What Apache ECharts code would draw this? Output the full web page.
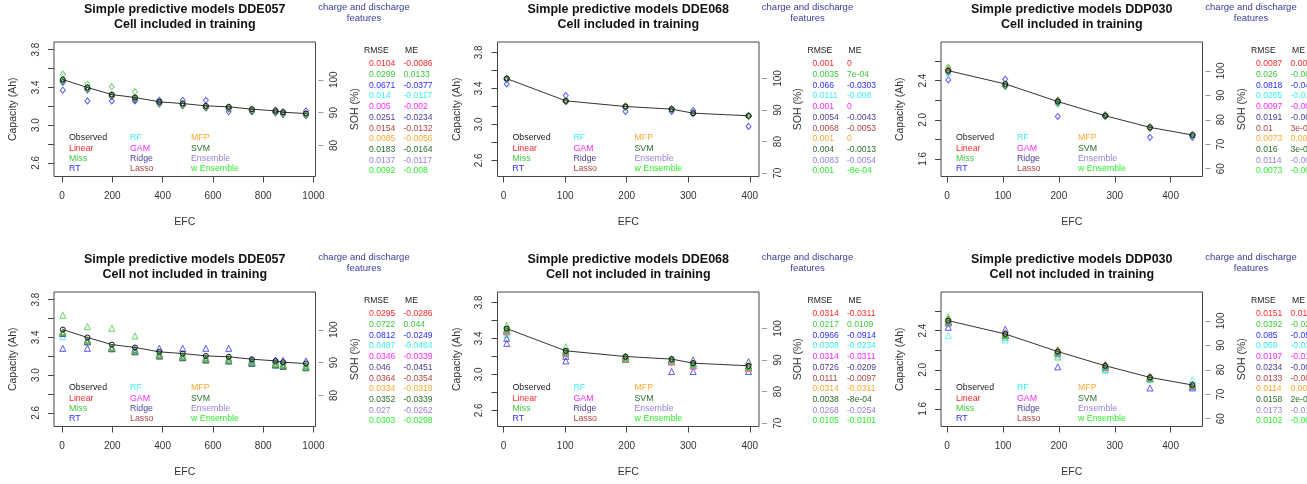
<!DOCTYPE html>
<html>
<head>
<meta charset="utf-8">
<script src="https://cdn.jsdelivr.net/npm/echarts@6/dist/echarts.min.js"></script>
<style>
html, body { margin: 0; padding: 0; background: #fff; }
#main { width: 1307px; height: 484px; }
</style>
</head>
<body>
<div id="main"></div>
<script>
// models and colours (same order in the tables)
var models = ['Linear', 'Miss', 'RT', 'RF', 'GAM', 'Ridge', 'Lasso', 'MFP', 'SVM', 'Ensemble', 'w Ensemble'];
var modelColors = ['#ff2a2a', '#3fc83f', '#2f2fff', '#3ff0f0', '#ff2aff', '#4a3d96', '#b04545', '#ffa830', '#2a6e2a', '#9a80dd', '#30f030'];

// DDE057
var efcDDE057 = [3, 101, 198, 290, 387, 480, 572, 663, 755, 849, 879, 970];
var obsDDE057 = [3.482, 3.398, 3.323, 3.292, 3.246, 3.228, 3.203, 3.193, 3.168, 3.150, 3.136, 3.122];
var predDDE057In = [
  [3.472, 3.392, 3.318, 3.285, 3.238, 3.222, 3.190, 3.182, 3.160, 3.138, 3.128, 3.112],
  [3.539, 3.433, 3.405, 3.352, 3.242, 3.222, 3.195, 3.190, 3.162, 3.145, 3.132, 3.115],
  [3.369, 3.256, 3.256, 3.256, 3.262, 3.262, 3.262, 3.140, 3.140, 3.160, 3.140, 3.150],
  [3.450, 3.385, 3.312, 3.280, 3.236, 3.215, 3.190, 3.182, 3.158, 3.140, 3.125, 3.110],
  [3.480, 3.396, 3.322, 3.290, 3.243, 3.226, 3.200, 3.190, 3.166, 3.148, 3.134, 3.118],
  [3.455, 3.372, 3.300, 3.268, 3.224, 3.205, 3.180, 3.170, 3.146, 3.128, 3.112, 3.100],
  [3.468, 3.385, 3.310, 3.280, 3.234, 3.215, 3.190, 3.180, 3.155, 3.137, 3.123, 3.108],
  [3.476, 3.392, 3.317, 3.286, 3.240, 3.222, 3.197, 3.187, 3.162, 3.144, 3.130, 3.116],
  [3.466, 3.382, 3.306, 3.275, 3.230, 3.212, 3.187, 3.177, 3.152, 3.134, 3.120, 3.106],
  [3.468, 3.386, 3.312, 3.280, 3.234, 3.216, 3.191, 3.181, 3.157, 3.138, 3.124, 3.110],
  [3.474, 3.390, 3.315, 3.284, 3.238, 3.220, 3.195, 3.185, 3.160, 3.142, 3.128, 3.114]
];
var predDDE057Out = [
  [3.455, 3.372, 3.295, 3.262, 3.218, 3.200, 3.175, 3.165, 3.140, 3.122, 3.108, 3.092],
  [3.634, 3.513, 3.496, 3.414, 3.232, 3.212, 3.185, 3.180, 3.150, 3.138, 3.125, 3.105],
  [3.283, 3.283, 3.283, 3.273, 3.283, 3.283, 3.283, 3.283, 3.160, 3.160, 3.156, 3.150],
  [3.407, 3.352, 3.280, 3.248, 3.205, 3.185, 3.160, 3.150, 3.125, 3.105, 3.092, 3.075],
  [3.455, 3.365, 3.290, 3.258, 3.212, 3.194, 3.170, 3.160, 3.135, 3.116, 3.102, 3.088],
  [3.440, 3.352, 3.278, 3.246, 3.200, 3.183, 3.158, 3.148, 3.123, 3.105, 3.090, 3.078],
  [3.450, 3.362, 3.288, 3.256, 3.210, 3.192, 3.168, 3.158, 3.133, 3.115, 3.100, 3.087],
  [3.452, 3.366, 3.291, 3.260, 3.214, 3.196, 3.171, 3.161, 3.136, 3.118, 3.104, 3.090],
  [3.450, 3.364, 3.290, 3.258, 3.212, 3.194, 3.169, 3.159, 3.134, 3.116, 3.102, 3.088],
  [3.458, 3.372, 3.297, 3.266, 3.220, 3.202, 3.177, 3.167, 3.142, 3.124, 3.110, 3.096],
  [3.454, 3.368, 3.293, 3.262, 3.216, 3.198, 3.173, 3.163, 3.138, 3.120, 3.106, 3.092]
];
var rmseDDE057In = ['0.0104', '0.0299', '0.0671', '0.014', '0.005', '0.0251', '0.0154', '0.0085', '0.0183', '0.0137', '0.0092'];
var meDDE057In = ['-0.0086', '0.0133', '-0.0377', '-0.0117', '-0.002', '-0.0234', '-0.0132', '-0.0056', '-0.0164', '-0.0117', '-0.008'];
var rmseDDE057Out = ['0.0295', '0.0722', '0.0812', '0.0487', '0.0346', '0.046', '0.0364', '0.0334', '0.0352', '0.027', '0.0303'];
var meDDE057Out = ['-0.0286', '0.044', '-0.0249', '-0.0464', '-0.0339', '-0.0451', '-0.0354', '-0.0319', '-0.0339', '-0.0262', '-0.0298'];

// DDE068
var efcDDE068 = [5, 101, 198, 273, 308, 398];
var obsDDE068 = [3.508, 3.261, 3.198, 3.169, 3.124, 3.095];
var predDDE068In = [
  [3.509, 3.260, 3.199, 3.168, 3.125, 3.094],
  [3.514, 3.258, 3.200, 3.170, 3.122, 3.097],
  [3.449, 3.320, 3.143, 3.143, 3.154, 2.977],
  [3.490, 3.255, 3.188, 3.165, 3.118, 3.090],
  [3.508, 3.261, 3.198, 3.169, 3.124, 3.095],
  [3.500, 3.255, 3.193, 3.166, 3.120, 3.090],
  [3.498, 3.254, 3.192, 3.165, 3.120, 3.089],
  [3.508, 3.261, 3.198, 3.169, 3.124, 3.095],
  [3.506, 3.259, 3.197, 3.168, 3.122, 3.094],
  [3.495, 3.260, 3.185, 3.165, 3.122, 3.092],
  [3.507, 3.260, 3.197, 3.168, 3.123, 3.094]
];
var predDDE068Out = [
  [3.478, 3.230, 3.167, 3.138, 3.093, 3.064],
  [3.546, 3.307, 3.200, 3.160, 3.118, 3.092],
  [3.344, 3.149, 3.170, 3.031, 3.031, 3.031],
  [3.443, 3.245, 3.180, 3.150, 3.105, 3.080],
  [3.477, 3.231, 3.167, 3.138, 3.093, 3.064],
  [3.400, 3.200, 3.165, 3.172, 3.160, 3.141],
  [3.490, 3.250, 3.190, 3.160, 3.115, 3.085],
  [3.477, 3.230, 3.167, 3.138, 3.093, 3.064],
  [3.505, 3.262, 3.197, 3.168, 3.124, 3.094],
  [3.470, 3.236, 3.175, 3.150, 3.100, 3.075],
  [3.495, 3.250, 3.188, 3.160, 3.115, 3.085]
];
var rmseDDE068In = ['0.001', '0.0035', '0.066', '0.0111', '0.001', '0.0054', '0.0068', '0.001', '0.004', '0.0083', '0.001'];
var meDDE068In = ['0', '7e-04', '-0.0303', '-0.008', '0', '-0.0043', '-0.0053', '0', '-0.0013', '-0.0054', '-8e-04'];
var rmseDDE068Out = ['0.0314', '0.0217', '0.0966', '0.0308', '0.0314', '0.0726', '0.0111', '0.0314', '0.0038', '0.0268', '0.0105'];
var meDDE068Out = ['-0.0311', '0.0109', '-0.0914', '-0.0234', '-0.0311', '-0.0209', '-0.0097', '-0.0311', '-8e-04', '-0.0254', '-0.0101'];

// DDP030
var efcDDP030 = [2, 104, 198, 283, 363, 439];
var obsDDP030 = [2.502, 2.366, 2.186, 2.041, 1.922, 1.844];
var predDDP030In = [
  [2.515, 2.360, 2.195, 2.040, 1.925, 1.842],
  [2.536, 2.340, 2.160, 2.035, 1.915, 1.850],
  [2.407, 2.414, 2.034, 2.041, 1.820, 1.820],
  [2.460, 2.350, 2.170, 2.030, 1.920, 1.850],
  [2.500, 2.355, 2.180, 2.040, 1.925, 1.845],
  [2.490, 2.350, 2.180, 2.035, 1.915, 1.840],
  [2.505, 2.365, 2.190, 2.045, 1.925, 1.845],
  [2.510, 2.362, 2.188, 2.042, 1.922, 1.846],
  [2.495, 2.345, 2.200, 2.050, 1.915, 1.845],
  [2.480, 2.355, 2.175, 2.035, 1.915, 1.840],
  [2.500, 2.360, 2.185, 2.040, 1.920, 1.843]
];
var predDDP030Out = [
  [2.520, 2.380, 2.205, 2.055, 1.935, 1.855],
  [2.540, 2.330, 2.130, 2.000, 1.905, 1.830],
  [2.434, 2.414, 2.030, 2.020, 1.814, 1.814],
  [2.349, 2.305, 2.150, 2.000, 1.900, 1.898],
  [2.490, 2.350, 2.170, 2.030, 1.910, 1.830],
  [2.480, 2.350, 2.175, 2.040, 1.915, 1.835],
  [2.490, 2.355, 2.180, 2.035, 1.915, 1.840],
  [2.510, 2.370, 2.195, 2.045, 1.925, 1.845],
  [2.500, 2.360, 2.190, 2.045, 1.925, 1.840],
  [2.480, 2.350, 2.170, 2.030, 1.910, 1.835],
  [2.495, 2.355, 2.180, 2.035, 1.915, 1.838]
];
var rmseDDP030In = ['0.0087', '0.026', '0.0818', '0.0265', '0.0097', '0.0191', '0.01', '0.0073', '0.016', '0.0114', '0.0073'];
var meDDP030In = ['0.0035', '-0.0062', '-0.0412', '-0.0152', '-0.0045', '-0.0061', '3e-04', '0.0021', '3e-04', '-0.0055', '-0.0018'];
var rmseDDP030Out = ['0.0151', '0.0392', '0.085', '0.069', '0.0197', '0.0234', '0.0133', '0.0114', '0.0158', '0.0173', '0.0102'];
var meDDP030Out = ['0.0134', '-0.0231', '-0.0562', '-0.0258', '-0.0172', '-0.0046', '-0.0031', '0.0063', '2e-04', '-0.0152', '-0.0047'];

// axis ticks
var xTicks1000 = [0, 200, 400, 600, 800, 1000];
var xTicks400 = [0, 100, 200, 300, 400];
var capTicksDDE = [2.6, 2.8, 3.0, 3.2, 3.4, 3.6, 3.8];
var capLabelsDDE = [2.6, 3.0, 3.4, 3.8];
var capTicksDDP = [1.6, 1.8, 2.0, 2.2, 2.4, 2.6];
var capLabelsDDP = [1.6, 2.0, 2.4];
var sohTicksDDE057 = [80, 90, 100];
var sohTicksDDE068 = [70, 80, 90, 100];
var sohTicksDDP030 = [60, 70, 80, 90, 100];

var cells = [
  {name: 'DDE057', efc: efcDDE057, obs: obsDDE057, xr: [-32, 1008], yr: [2.455, 3.88], nom: 3.48, xt: xTicks1000, yt: capTicksDDE, yl: capLabelsDDE, st: sohTicksDDE057},
  {name: 'DDE068', efc: efcDDE068, obs: obsDDE068, xr: [-10, 415], yr: [2.42, 3.915], nom: 3.51, xt: xTicks400, yt: capTicksDDE, yl: capLabelsDDE, st: sohTicksDDE068},
  {name: 'DDP030', efc: efcDDP030, obs: obsDDP030, xr: [-11, 457], yr: [1.42, 2.795], nom: 2.5, xt: xTicks400, yt: capTicksDDP, yl: capLabelsDDP, st: sohTicksDDP030}
];
var rows = [
  {label: 'Cell included in training', symbol: 'diamond', pred: [predDDE057In, predDDE068In, predDDP030In], rmse: [rmseDDE057In, rmseDDE068In, rmseDDP030In], me: [meDDE057In, meDDE068In, meDDP030In]},
  {label: 'Cell not included in training', symbol: 'triangle', pred: [predDDE057Out, predDDE068Out, predDDP030Out], rmse: [rmseDDE057Out, rmseDDE068Out, rmseDDP030Out], me: [meDDE057Out, meDDE068Out, meDDP030Out]}
];

var FONT = '"Liberation Sans", Arial, Helvetica, sans-serif';
var boxLeft = [54, 497.5, 941];
var boxTop = [42, 292];
var boxW = 261.5, boxH = 134.5;

var grids = [], xAxes = [], yAxes = [], series = [], texts = [];

function txt(x, y, s, color, size, bold, align) {
  texts.push({
    type: 'text', x: x, y: y, silent: true,
    style: {
      text: s, fill: color,
      font: (bold ? 'bold ' : '') + size + 'px ' + FONT,
      textAlign: align || 'left', textVerticalAlign: 'middle'
    }
  });
}

rows.forEach(function (row, r) {
  cells.forEach(function (c, k) {
    var gi = grids.length;
    var L = boxLeft[k], T = boxTop[r];
    grids.push({left: L, top: T, width: boxW, height: boxH, show: true, borderColor: '#444', borderWidth: 1});
    xAxes.push({
      gridIndex: gi, type: 'value', min: c.xr[0], max: c.xr[1],
      name: 'EFC', nameLocation: 'middle', nameGap: 40,
      nameTextStyle: {fontFamily: FONT, fontSize: 10.5, color: '#333'},
      axisLine: {show: false, onZero: false},
      axisTick: {show: true, inside: false, length: 6, customValues: c.xt, lineStyle: {color: '#444'}},
      axisLabel: {customValues: c.xt, margin: 15, fontFamily: FONT, fontSize: 10, color: '#333',
        formatter: function (v) { return String(v); }},
      splitLine: {show: false}
    });
    yAxes.push({
      gridIndex: gi, type: 'value', position: 'left', min: c.yr[0], max: c.yr[1],
      name: 'Capacity (Ah)', nameLocation: 'middle', nameGap: 35, nameRotate: 90,
      nameTextStyle: {fontFamily: FONT, fontSize: 10.5, color: '#333'},
      axisLine: {show: false, onZero: false},
      axisTick: {show: true, inside: false, length: 6, customValues: c.yt, lineStyle: {color: '#444'}},
      axisLabel: {customValues: c.yl, rotate: 90, margin: 13, fontFamily: FONT, fontSize: 10, color: '#333',
        formatter: function (v) { return v.toFixed(1); }},
      splitLine: {show: false}
    });
    yAxes.push({
      gridIndex: gi, type: 'value', position: 'right', offset: 3,
      min: c.yr[0] / c.nom * 100, max: c.yr[1] / c.nom * 100,
      name: 'SOH (%)', nameLocation: 'middle', nameGap: 31, nameRotate: 90,
      nameTextStyle: {fontFamily: FONT, fontSize: 10.5, color: '#333'},
      axisLine: {show: false, onZero: false},
      axisTick: {show: true, inside: false, length: 5, customValues: c.st, lineStyle: {color: '#999'}},
      axisLabel: {customValues: c.st, rotate: 90, margin: 11, fontFamily: FONT, fontSize: 10, color: '#333'},
      splitLine: {show: false}
    });

    // observed line
    series.push({
      type: 'line', xAxisIndex: gi, yAxisIndex: 2 * gi,
      data: c.efc.map(function (x, j) { return [x, c.obs[j]]; }),
      symbol: 'circle', symbolSize: 5, animation: false, silent: true,
      lineStyle: {color: '#333', width: 1},
      itemStyle: {color: 'rgba(0,0,0,0)', borderColor: '#111', borderWidth: 1}
    });
    // model predictions
    row.pred[k].forEach(function (vals, m) {
      series.push({
        type: 'scatter', xAxisIndex: gi, yAxisIndex: 2 * gi,
        data: c.efc.map(function (x, j) { return [x, vals[j]]; }),
        symbol: row.symbol, symbolSize: row.symbol === 'diamond' ? [5, 6] : 6,
        animation: false, silent: true,
        itemStyle: {color: 'rgba(0,0,0,0)', borderColor: modelColors[m], borderWidth: 1}
      });
    });

    // title
    var dy = r === 0 ? 0 : 250;
    txt(L + boxW / 2, 10 + dy, 'Simple predictive models ' + c.name, '#111', 12.5, true, 'center');
    txt(L + boxW / 2, 25 + dy, row.label, '#111', 12.5, true, 'center');
    // feature set note
    txt(L + 310, 7 + dy, 'charge and discharge', '#3a3a9e', 9.5, false, 'center');
    txt(L + 310, 18.5 + dy, 'features', '#3a3a9e', 9.5, false, 'center');

    // legend inside the box
    var legNames = ['Observed'].concat(models);
    var legColors = ['#222'].concat(modelColors);
    legNames.forEach(function (n, q) {
      var col = Math.floor(q / 4), rr = q % 4;
      txt(L + 15 + col * 61, T + 96 + rr * 10.1, n, legColors[q], 8.8, false, 'left');
    });

    // RMSE / ME table
    txt(L + 310, 51 + dy, 'RMSE', '#222', 8.6, false, 'left');
    txt(L + 351, 51 + dy, 'ME', '#222', 8.6, false, 'left');
    row.rmse[k].forEach(function (s, q) {
      txt(L + 315, 64 + dy + q * 10.7, s, modelColors[q], 8.6, false, 'left');
      txt(L + 349.5, 64 + dy + q * 10.7, row.me[k][q], modelColors[q], 8.6, false, 'left');
    });
  });
});

var chart = echarts.init(document.getElementById('main'));
chart.setOption({
  backgroundColor: '#fff',
  animation: false,
  grid: grids,
  xAxis: xAxes,
  yAxis: yAxes,
  series: series,
  graphic: {elements: texts}
});
</script>
</body>
</html>
